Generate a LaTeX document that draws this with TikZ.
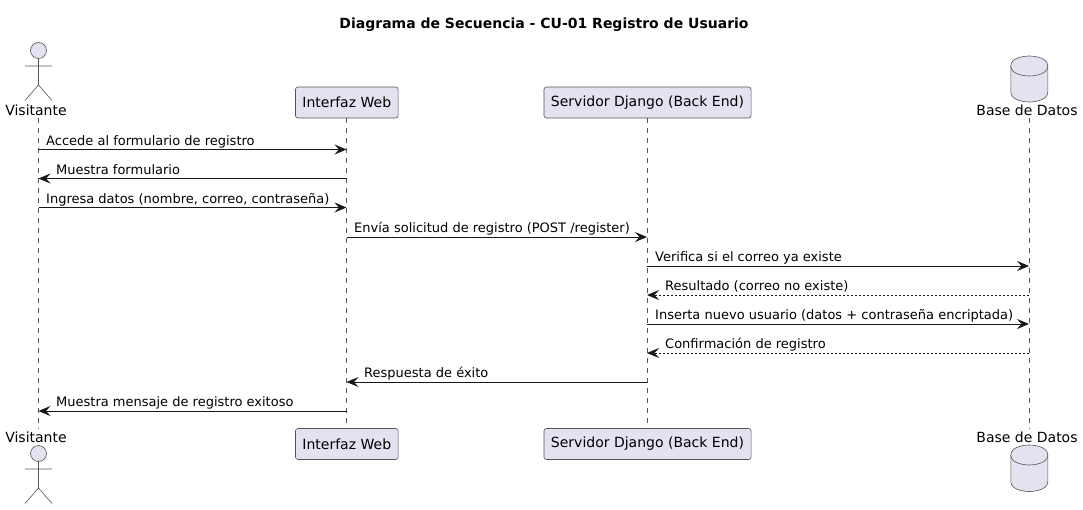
\documentclass[tikz,border=0pt]{standalone}
\usepackage{fontspec}
\setmainfont{DejaVu Sans}
\usetikzlibrary{arrows.meta}
\definecolor{pfill}{HTML}{E2E2F0}
\definecolor{pline}{HTML}{181818}
\definecolor{thinline}{HTML}{555555}
\tikzset{
  x=1pt,y=-1pt,
  txt/.style={font=\fontsize{13}{15}\selectfont,text=black,inner sep=0pt},
  parttxt/.style={txt,font=\fontsize{14}{16}\selectfont},
  partbox/.style={parttxt,draw=thinline,line width=.6pt,fill=pfill,rounded corners=2.5pt,minimum height=31pt,inner xsep=7pt,anchor=center},
  shapeline/.style={draw=thinline,line width=.6pt},
  life/.style={draw=thinline,line width=.5pt,dash pattern=on 5pt off 5pt},
  msg/.style={draw=pline,line width=.9pt,-{Stealth[length=12pt,width=10pt,inset=4.5pt]}},
  reply/.style={msg,dash pattern=on 2pt off 2pt},
  msgtxt/.style={txt,anchor=base west},
}
\newcommand{\actorfig}[2]{% x, head centre y
  \fill[pfill] (#1,#2) circle[radius=8];
  \draw[shapeline] (#1,#2) circle[radius=8];
  \draw[shapeline] (#1,#2+8) -- (#1,#2+34.5) (#1-13.5,#2+15.5) -- (#1+13.5,#2+15.5)
     (#1-13.5,#2+50) -- (#1,#2+34.5) -- (#1+13.5,#2+50);
}
\newcommand{\dbfig}[3]{% centre x, top y, bottom y
  \draw[shapeline,fill=pfill] (#1-18.5,#2+10) .. controls (#1-18.5,#2) and (#1,#2) .. (#1,#2)
    .. controls (#1,#2) and (#1+18.5,#2) .. (#1+18.5,#2+10) -- (#1+18.5,#3-10)
    .. controls (#1+18.5,#3) and (#1,#3) .. (#1,#3)
    .. controls (#1,#3) and (#1-18.5,#3) .. (#1-18.5,#3-10) -- cycle;
  \draw[shapeline] (#1-18.5,#2+10) .. controls (#1-18.5,#2+20) and (#1,#2+20) .. (#1,#2+20)
    .. controls (#1,#2+20) and (#1+18.5,#2+20) .. (#1+18.5,#2+10);
}
\begin{document}
\begin{tikzpicture}
\useasboundingbox (0,0) rectangle (1083,509);
\node[txt,font=\fontsize{14}{16}\selectfont\bfseries] (title) at (544,24.5) {Diagrama de Secuencia - CU-01 Registro de Usuario};

% participants, top
\node[parttxt,anchor=base] (vt) at (36,115) {Visitante};
\actorfig{38.5}{50.5}
\node[partbox] (wt) at (346.8,102.5) {Interfaz Web};
\node[partbox] (st) at (647.5,102.5) {Servidor Django (Back End)};
\node[parttxt,anchor=base] (dt) at (1027,115) {Base de Datos};
\dbfig{1029.3}{56}{102}

% participants, bottom
\node[parttxt,anchor=base] (vb) at (36,442) {Visitante};
\actorfig{38.5}{453.5}
\node[partbox] (wb) at (346.8,444) {Interfaz Web};
\node[partbox] (sb) at (647.5,444) {Servidor Django (Back End)};
\node[parttxt,anchor=base] (db) at (1027,442) {Base de Datos};
\dbfig{1029.3}{445}{491.5}

% lifeline ends and positions
\coordinate (vtop) at (38.5,118); \coordinate (vbot) at (38.5,429);
\coordinate (wtop) at (346.5,118); \coordinate (wbot) at (346.5,429);
\coordinate (stop) at (647,118); \coordinate (sbot) at (647,429);
\coordinate (dtop) at (1029,118); \coordinate (dbot) at (1029,429);
\draw[life] (vtop) -- (vbot);
\draw[life] (wtop) -- (wbot);
\draw[life] (stop) -- (sbot);
\draw[life] (dtop) -- (dbot);

% messages
\draw[msg] (vtop |- 0,149.5) -- (wtop |- 0,149.5);
\node[msgtxt] (m1) at (46,145.5) {Accede al formulario de registro};
\draw[msg] (wtop |- 0,178.5) -- (vtop |- 0,178.5);
\node[msgtxt] (m2) at (56,174.5) {Muestra formulario};
\draw[msg] (vtop |- 0,207.5) -- (wtop |- 0,207.5);
\node[msgtxt] (m3) at (46,203.5) {Ingresa datos (nombre, correo, contraseña)};
\draw[msg] (wtop |- 0,237) -- (stop |- 0,237);
\node[msgtxt] (m4) at (354,232.5) {Envía solicitud de registro (POST /register)};
\draw[msg] (stop |- 0,266) -- (dtop |- 0,266);
\node[msgtxt] (m5) at (655,261.5) {Verifica si el correo ya existe};
\draw[reply] (dtop |- 0,295) -- (stop |- 0,295);
\node[msgtxt] (m6) at (665,290.5) {Resultado (correo no existe)};
\draw[msg] (stop |- 0,324) -- (dtop |- 0,324);
\node[msgtxt] (m7) at (655,319.5) {Inserta nuevo usuario (datos + contraseña encriptada)};
\draw[reply] (dtop |- 0,353) -- (stop |- 0,353);
\node[msgtxt] (m8) at (665,348.5) {Confirmación de registro};
\draw[msg] (stop |- 0,382) -- (wtop |- 0,382);
\node[msgtxt] (m9) at (364,377.5) {Respuesta de éxito};
\draw[msg] (wtop |- 0,411) -- (vtop |- 0,411);
\node[msgtxt] (m10) at (56,406.5) {Muestra mensaje de registro exitoso};
\end{tikzpicture}
\end{document}
